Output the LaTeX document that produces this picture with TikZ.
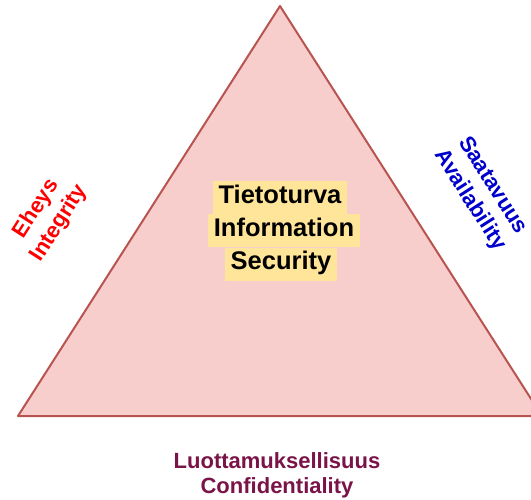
\documentclass[tikz,border=0pt]{standalone}
\usepackage{fontspec}
\setmainfont{Liberation Sans}
\begin{document}
\begin{tikzpicture}[x=1pt,y=-1pt,
  side/.style={font=\fontsize{22}{27}\selectfont\bfseries, align=center, inner sep=0pt},
  bottomlabel/.style={font=\fontsize{22}{25}\selectfont\bfseries, align=center, inner sep=0pt},
  hl/.style={font=\fontsize{25.5}{30}\selectfont\bfseries, fill=hlyellow, text=black,
    inner xsep=6pt, inner ysep=0pt, text height=22pt, text depth=11pt, anchor=center}]
\definecolor{trifill}{HTML}{F8CECC}
\definecolor{tridraw}{HTML}{B85450}
\definecolor{hlyellow}{HTML}{FFE599}
\definecolor{integ}{HTML}{FF0000}
\definecolor{avail}{HTML}{0000CC}
\definecolor{confid}{HTML}{7A1448}
\useasboundingbox (0,0) rectangle (531,499);
\begin{scope}
  \clip (0,0) rectangle (531,499);
  \coordinate (apex) at (280,6);
  \coordinate (bl) at (18,416);
  \coordinate (br) at (542,416);
  \draw[fill=trifill, draw=tridraw, line width=2pt, line join=round] (apex) -- (bl) -- (br) -- cycle;
\end{scope}
% central label, each line highlighted
\node[hl] (l1) at (280,197.5) {Tietoturva};
\node[hl] (l2) at (284,230.5) {Information};
\node[hl] (l3) at (281,264) {Security};
% sides of the triangle
\node[side, text=integ, rotate=57.4] (integrity) at (48,216) {Eheys\\Integrity};
\node[side, text=avail, rotate=-57.4] (availability) at (481,193) {Saatavuus\\Availability};
\node[bottomlabel, text=confid] (confidentiality) at (277,475) {Luottamuksellisuus\\Confidentiality};
\end{tikzpicture}
\end{document}
